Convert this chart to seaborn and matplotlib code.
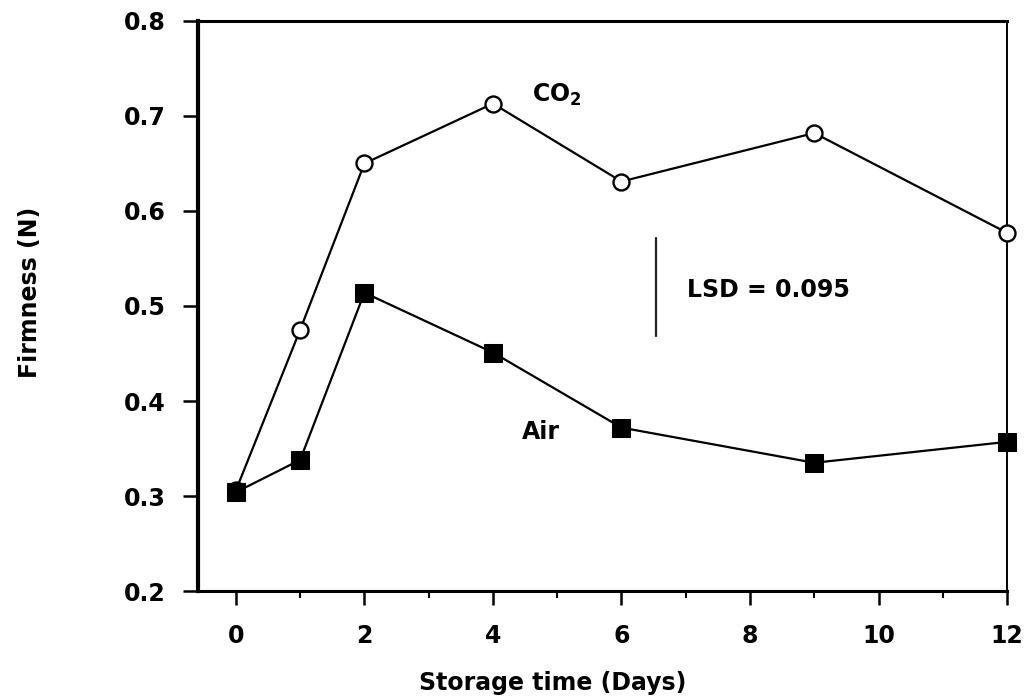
import numpy as np
import pandas as pd
import seaborn as sns
import matplotlib.pyplot as plt
from matplotlib.ticker import MultipleLocator, FormatStrFormatter

# values
days = [0, 1, 2, 4, 6, 9, 12]
co2 = [0.306, 0.475, 0.650, 0.713, 0.631, 0.682, 0.577]
air = [0.304, 0.338, 0.514, 0.451, 0.372, 0.335, 0.357]

lsd_x = 6.54
lsd_lo = 0.468
lsd_hi = 0.572

sns.set_theme(style="white")
plt.rcParams['font.family'] = ['DejaVu Sans']
plt.rcParams['font.weight'] = 'bold'
plt.rcParams['text.color'] = 'black'
plt.rcParams['axes.labelcolor'] = 'black'

fig = plt.figure(figsize=(10.28, 6.97), dpi=100)
ax = fig.add_axes([0.1926, 0.152, 0.787, 0.818])

sns.lineplot(x=days, y=co2, ax=ax, color='black', lw=1.6,
             marker='o', markersize=11.5, markerfacecolor='white',
             markeredgecolor='black', markeredgewidth=1.7,
             clip_on=False, zorder=3)
sns.lineplot(x=days, y=air, ax=ax, color='black', lw=1.6,
             marker='s', markersize=13, markerfacecolor='black',
             markeredgecolor='black', clip_on=False, zorder=4)

# LSD bar
ax.plot([lsd_x, lsd_x], [lsd_lo, lsd_hi], color='#222222', lw=1.6)
ax.text(7.02, 0.517, 'LSD = 0.095', fontsize=17, fontweight='bold',
        va='center', ha='left', color='black')
ax.text(4.6, 0.722, 'CO$_\\mathbf{2}$', fontsize=17, fontweight='bold',
        va='center', ha='left', color='black')
ax.text(4.45, 0.367, 'Air', fontsize=17, fontweight='bold',
        va='center', ha='left', color='black')

ax.set_xlim(-0.59, 12)
ax.set_ylim(0.2, 0.8)
ax.xaxis.set_major_locator(MultipleLocator(2))
ax.xaxis.set_minor_locator(MultipleLocator(1))
ax.yaxis.set_major_locator(MultipleLocator(0.1))
ax.yaxis.set_major_formatter(FormatStrFormatter('%.1f'))

ax.tick_params(axis='both', which='major', direction='out', length=10,
               width=1.8, color='black', labelsize=17, labelcolor='black',
               bottom=True, left=True)
ax.tick_params(axis='x', which='major', pad=14)
ax.tick_params(axis='y', which='major', pad=12, length=11)
ax.tick_params(axis='x', which='minor', direction='out', length=5,
               width=1.5, color='black', bottom=True)
for lab in ax.get_xticklabels() + ax.get_yticklabels():
    lab.set_fontweight('bold')

for side in ['left', 'bottom', 'top', 'right']:
    ax.spines[side].set_color('black')
ax.spines['left'].set_linewidth(3.0)
ax.spines['bottom'].set_linewidth(2.2)
ax.spines['top'].set_linewidth(2.2)
ax.spines['right'].set_linewidth(1.4)

fig.text(0.029, 0.581, 'Firmness (N)', rotation=90, fontsize=17,
         fontweight='bold', ha='center', va='center', color='black')
fig.text(0.538, 0.020, 'Storage time (Days)', fontsize=17,
         fontweight='bold', ha='center', va='center', color='black')

fig.savefig('out.png', dpi=100, facecolor='white')
